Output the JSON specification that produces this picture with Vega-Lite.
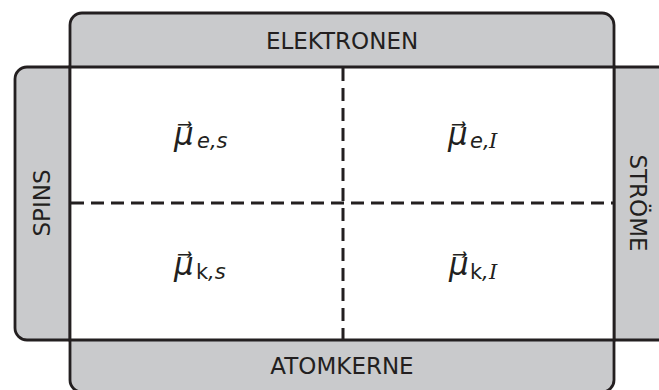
{
  "$schema": "https://vega.github.io/schema/vega-lite/v6.json",
  "autosize": {"type": "fit", "contains": "padding"},
  "width": 659,
  "height": 390,
  "padding": 0,
  "background": "white",
  "config": {"view": {"stroke": null}},
  "datasets": {
    "bands": [
      {"part": "Spins/Ströme", "x": 15, "x2": 700, "y": 67, "y2": 340},
      {"part": "Elektronen/Atomkerne", "x": 70, "x2": 614, "y": 13, "y2": 392}
    ],
    "inner": [{"x": 70, "x2": 614, "y": 67, "y2": 340}],
    "dividers": [
      {"x": 343, "x2": 343, "y": 68, "y2": 339},
      {"x": 71, "x2": 613, "y": 203, "y2": 203}
    ],
    "hlabels": [
      {"t": "ELEKTRONEN", "x": 342, "y": 49},
      {"t": "ATOMKERNE", "x": 342, "y": 374}
    ],
    "leftlabel": [{"t": "SPINS", "x": 50, "y": 203}],
    "rightlabel": [{"t": "STRÖME", "x": 630, "y": 203}],
    "mu": [
      {"t": "μ⃗", "x": 174, "y": 145},
      {"t": "μ⃗", "x": 448, "y": 145},
      {"t": "μ⃗", "x": 174, "y": 275},
      {"t": "μ⃗", "x": 449, "y": 275}
    ],
    "subItalic": [
      {"t": "e,s", "x": 197, "y": 148},
      {"t": "e,", "x": 470, "y": 148},
      {"t": ",s", "x": 208, "y": 279},
      {"t": ",", "x": 482, "y": 279}
    ],
    "subUpright": [
      {"t": "k", "x": 196, "y": 279},
      {"t": "k", "x": 470, "y": 279}
    ],
    "subSerif": [
      {"t": "I", "x": 489, "y": 148},
      {"t": "I", "x": 489, "y": 279}
    ]
  },
  "layer": [
    {
      "data": {"name": "bands"},
      "mark": {"type": "rect", "fill": "#c9cacc", "stroke": "#231f20", "strokeWidth": 2.8, "cornerRadius": 12, "clip": true},
      "encoding": {
        "x": {"field": "x", "type": "quantitative", "scale": {"domain": [0, 659], "nice": false, "zero": false}, "axis": null},
        "x2": {"field": "x2"},
        "y": {"field": "y", "type": "quantitative", "scale": {"domain": [0, 390], "nice": false, "zero": false, "reverse": true}, "axis": null},
        "y2": {"field": "y2"}
      }
    },
    {
      "data": {"name": "inner"},
      "mark": {"type": "rect", "fill": "white", "stroke": "#231f20", "strokeWidth": 2.8},
      "encoding": {
        "x": {"field": "x", "type": "quantitative", "axis": null},
        "x2": {"field": "x2"},
        "y": {"field": "y", "type": "quantitative", "axis": null},
        "y2": {"field": "y2"}
      }
    },
    {
      "data": {"name": "dividers"},
      "mark": {"type": "rule", "stroke": "#231f20", "strokeWidth": 3, "strokeDash": [13, 7]},
      "encoding": {
        "x": {"field": "x", "type": "quantitative", "axis": null},
        "x2": {"field": "x2"},
        "y": {"field": "y", "type": "quantitative", "axis": null},
        "y2": {"field": "y2"}
      }
    },
    {
      "data": {"name": "hlabels"},
      "mark": {"type": "text", "font": "DejaVu Sans", "fontSize": 23, "color": "#231f20", "align": "center", "baseline": "alphabetic"},
      "encoding": {
        "x": {"field": "x", "type": "quantitative", "axis": null},
        "y": {"field": "y", "type": "quantitative", "axis": null},
        "text": {"field": "t"}
      }
    },
    {
      "data": {"name": "leftlabel"},
      "mark": {"type": "text", "font": "DejaVu Sans", "fontSize": 23, "color": "#231f20", "align": "center", "baseline": "alphabetic", "angle": 270},
      "encoding": {
        "x": {"field": "x", "type": "quantitative", "axis": null},
        "y": {"field": "y", "type": "quantitative", "axis": null},
        "text": {"field": "t"}
      }
    },
    {
      "data": {"name": "rightlabel"},
      "mark": {"type": "text", "font": "DejaVu Sans", "fontSize": 23, "color": "#231f20", "align": "center", "baseline": "alphabetic", "angle": 90},
      "encoding": {
        "x": {"field": "x", "type": "quantitative", "axis": null},
        "y": {"field": "y", "type": "quantitative", "axis": null},
        "text": {"field": "t"}
      }
    },
    {
      "data": {"name": "mu"},
      "mark": {"type": "text", "font": "DejaVu Sans", "fontStyle": "italic", "fontSize": 31, "color": "#231f20", "align": "left", "baseline": "alphabetic"},
      "encoding": {
        "x": {"field": "x", "type": "quantitative", "axis": null},
        "y": {"field": "y", "type": "quantitative", "axis": null},
        "text": {"field": "t"}
      }
    },
    {
      "data": {"name": "subItalic"},
      "mark": {"type": "text", "font": "DejaVu Sans", "fontStyle": "italic", "fontSize": 21, "color": "#231f20", "align": "left", "baseline": "alphabetic"},
      "encoding": {
        "x": {"field": "x", "type": "quantitative", "axis": null},
        "y": {"field": "y", "type": "quantitative", "axis": null},
        "text": {"field": "t"}
      }
    },
    {
      "data": {"name": "subUpright"},
      "mark": {"type": "text", "font": "DejaVu Sans", "fontSize": 21, "color": "#231f20", "align": "left", "baseline": "alphabetic"},
      "encoding": {
        "x": {"field": "x", "type": "quantitative", "axis": null},
        "y": {"field": "y", "type": "quantitative", "axis": null},
        "text": {"field": "t"}
      }
    },
    {
      "data": {"name": "subSerif"},
      "mark": {"type": "text", "font": "DejaVu Serif", "fontStyle": "italic", "fontSize": 21, "color": "#231f20", "align": "left", "baseline": "alphabetic"},
      "encoding": {
        "x": {"field": "x", "type": "quantitative", "axis": null},
        "y": {"field": "y", "type": "quantitative", "axis": null},
        "text": {"field": "t"}
      }
    }
  ]
}
